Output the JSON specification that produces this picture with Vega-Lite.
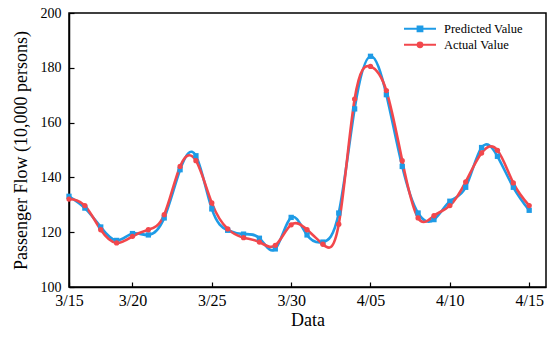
{
  "$schema": "https://vega.github.io/schema/vega-lite/v6.json",
  "autosize": {"type": "none"},
  "padding": {"left": 69, "top": 13, "right": 4, "bottom": 50},
  "width": 477,
  "height": 274,
  "background": "white",
  "config": {
    "view": {"stroke": "black", "strokeWidth": 1.5},
    "font": "Liberation Serif",
    "axis": {"grid": false, "domainColor": "black", "domainWidth": 1.5, "tickColor": "black", "tickWidth": 1.2, "labelColor": "black", "titleColor": "black", "labelFont": "Liberation Serif", "titleFont": "Liberation Serif", "titleFontWeight": "normal"}
  },
  "data": {"values": [
    {"i":0,"series":"Predicted Value","v":133.1},{"i":0,"series":"Actual Value","v":132.1},
    {"i":1,"series":"Predicted Value","v":128.8},{"i":1,"series":"Actual Value","v":129.7},
    {"i":2,"series":"Predicted Value","v":121.9},{"i":2,"series":"Actual Value","v":120.9},
    {"i":3,"series":"Predicted Value","v":117.0},{"i":3,"series":"Actual Value","v":116.1},
    {"i":4,"series":"Predicted Value","v":119.5},{"i":4,"series":"Actual Value","v":118.5},
    {"i":5,"series":"Predicted Value","v":119.0},{"i":5,"series":"Actual Value","v":120.9},
    {"i":6,"series":"Predicted Value","v":125.2},{"i":6,"series":"Actual Value","v":126.4},
    {"i":7,"series":"Predicted Value","v":142.8},{"i":7,"series":"Actual Value","v":144.0},
    {"i":8,"series":"Predicted Value","v":147.9},{"i":8,"series":"Actual Value","v":146.1},
    {"i":9,"series":"Predicted Value","v":128.5},{"i":9,"series":"Actual Value","v":130.7},
    {"i":10,"series":"Predicted Value","v":120.7},{"i":10,"series":"Actual Value","v":121.2},
    {"i":11,"series":"Predicted Value","v":119.3},{"i":11,"series":"Actual Value","v":118.0},
    {"i":12,"series":"Predicted Value","v":117.8},{"i":12,"series":"Actual Value","v":116.4},
    {"i":13,"series":"Predicted Value","v":113.9},{"i":13,"series":"Actual Value","v":115.2},
    {"i":14,"series":"Predicted Value","v":125.4},{"i":14,"series":"Actual Value","v":122.7},
    {"i":15,"series":"Predicted Value","v":119.0},{"i":15,"series":"Actual Value","v":120.9},
    {"i":16,"series":"Predicted Value","v":116.4},{"i":16,"series":"Actual Value","v":115.6},
    {"i":17,"series":"Predicted Value","v":127.0},{"i":17,"series":"Actual Value","v":122.9},
    {"i":18,"series":"Predicted Value","v":165.0},{"i":18,"series":"Actual Value","v":168.6},
    {"i":19,"series":"Predicted Value","v":184.2},{"i":19,"series":"Actual Value","v":180.5},
    {"i":20,"series":"Predicted Value","v":170.2},{"i":20,"series":"Actual Value","v":171.7},
    {"i":21,"series":"Predicted Value","v":144.0},{"i":21,"series":"Actual Value","v":146.1},
    {"i":22,"series":"Predicted Value","v":127.0},{"i":22,"series":"Actual Value","v":125.2},
    {"i":23,"series":"Predicted Value","v":124.6},{"i":23,"series":"Actual Value","v":126.0},
    {"i":24,"series":"Predicted Value","v":131.3},{"i":24,"series":"Actual Value","v":129.7},
    {"i":25,"series":"Predicted Value","v":136.4},{"i":25,"series":"Actual Value","v":138.4},
    {"i":26,"series":"Predicted Value","v":150.9},{"i":26,"series":"Actual Value","v":148.9},
    {"i":27,"series":"Predicted Value","v":147.7},{"i":27,"series":"Actual Value","v":149.9},
    {"i":28,"series":"Predicted Value","v":136.4},{"i":28,"series":"Actual Value","v":138.0},
    {"i":29,"series":"Predicted Value","v":128.0},{"i":29,"series":"Actual Value","v":129.7}
  ]},
  "encoding": {
    "x": {"field": "i", "type": "quantitative", "scale": {"domain": [0, 30.06], "nice": false, "zero": false},
      "axis": {"title": "Data", "values": [0,4,9,14,19,24,29], "labelExpr": "datum.value == 0 ? '3/15' : datum.value == 4 ? '3/20' : datum.value == 9 ? '3/25' : datum.value == 14 ? '3/30' : datum.value == 19 ? '4/05' : datum.value == 24 ? '4/10' : '4/15'",
        "tickSize": -5, "labelPadding": 10, "labelFontSize": 16, "titleFontSize": 18, "titlePadding": 3, "labelFlush": false}},
    "y": {"field": "v", "type": "quantitative", "scale": {"domain": [100, 200], "nice": false, "zero": false},
      "axis": {"title": "Passenger Flow (10,000 persons)", "values": [100,120,140,160,180,200], "tickSize": -5, "labelPadding": 13, "labelFontSize": 14, "titleFontSize": 18, "titlePadding": 10}},
    "color": {"field": "series", "type": "nominal", "scale": {"domain": ["Predicted Value", "Actual Value"], "range": ["#1E9BE6", "#F2474C"]}}
  },
  "layer": [
    {"mark": {"type": "line", "interpolate": "natural", "strokeWidth": 2.6},
     "encoding": {"color": {"field": "series", "type": "nominal", "scale": {"domain": ["Predicted Value", "Actual Value"], "range": ["#1E9BE6", "#F2474C"]},
        "legend": {"title": null, "orient": "none", "legendX": 334, "legendY": 8, "labelFontSize": 12.5, "labelFont": "Liberation Serif", "labelColor": "black", "symbolSize": 1024, "symbolStrokeWidth": 2, "clipHeight": 15.7, "rowPadding": 0, "labelOffset": 7,
          "encode": {"symbols": {"update": {
            "shape": {"signal": "datum.value === 'Predicted Value' ? 'M-1,0H1M-0.15,-0.15H0.15V0.15H-0.15Z' : 'M-1,0H1M0.15,0A0.15,0.15,0,1,1,-0.15,0A0.15,0.15,0,1,1,0.15,0Z'"},
            "fill": {"scale": "color", "field": "value"},
            "stroke": {"scale": "color", "field": "value"}}}}}}}},
    {"mark": {"type": "point", "filled": true, "opacity": 1, "size": 28},
     "encoding": {
       "shape": {"condition": {"test": "datum.series === 'Predicted Value'", "value": "square"}, "value": "circle"}}}
  ]
}
